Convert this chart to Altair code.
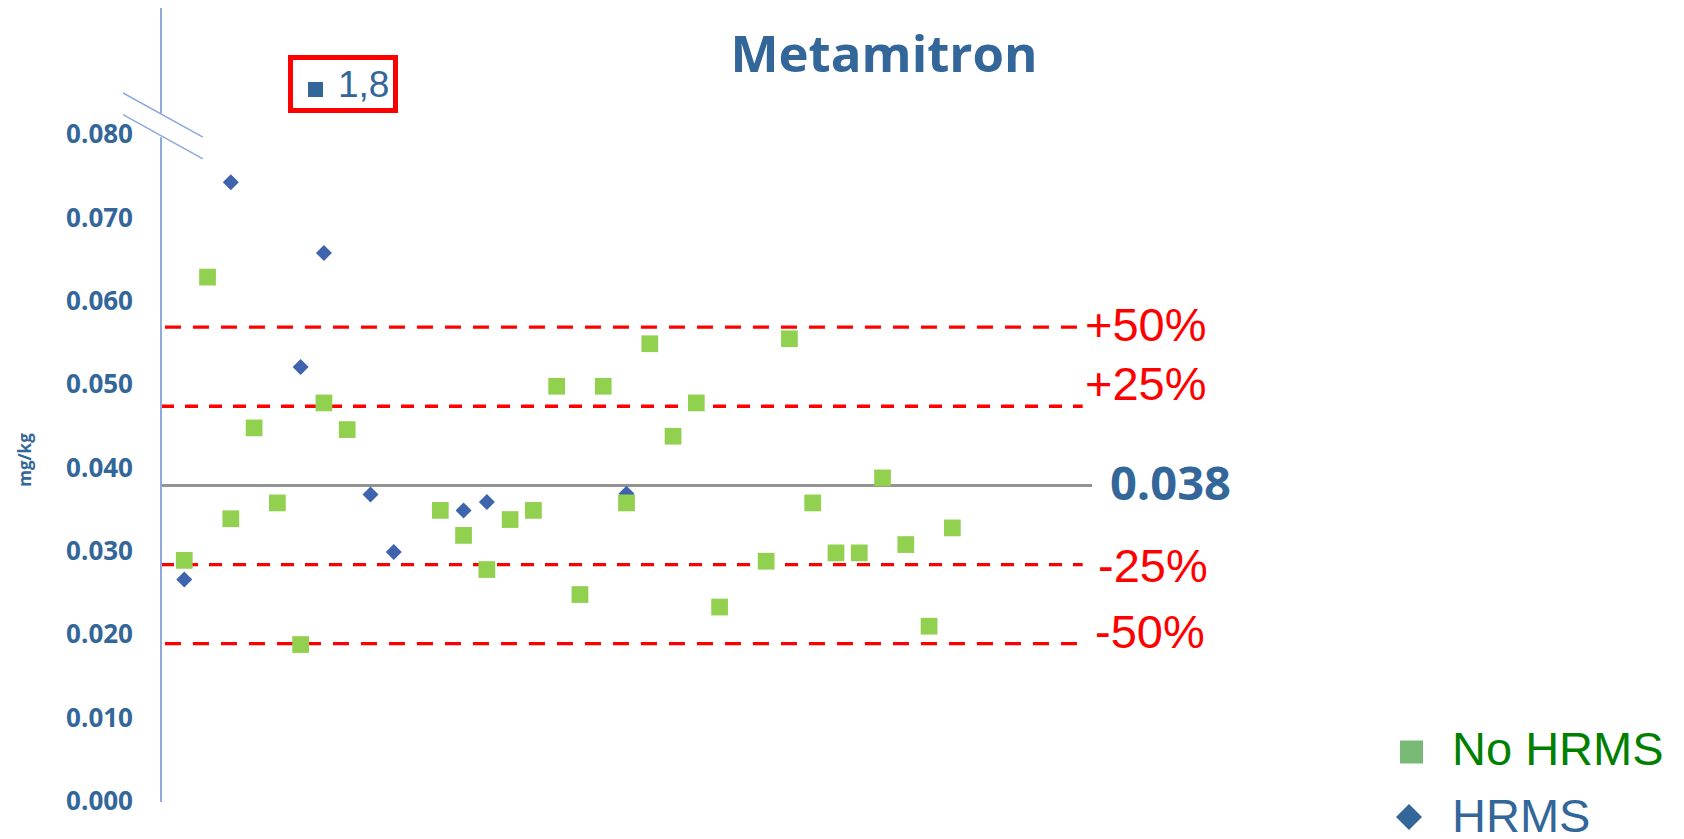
import altair as alt
import pandas as pd

# ---- data ----
labs_no_hrms = [1, 2, 3, 4, 5, 6, 7, 8, 12, 13, 14, 15, 16, 17, 18, 19, 20, 21, 22, 23, 24,
                26, 27, 28, 29, 30, 31, 32, 33, 34]
vals_no_hrms = [0.0290, 0.0630, 0.0340, 0.0449, 0.0359, 0.0189, 0.0479, 0.0447,
                0.0350, 0.0320, 0.0279, 0.0339, 0.0350, 0.0499, 0.0249, 0.0499, 0.0359,
                0.0550, 0.0439, 0.0479, 0.0234,
                0.0289, 0.0556, 0.0359, 0.0299, 0.0299, 0.0389, 0.0309, 0.0211, 0.0329]
labs_hrms = [1, 3, 6, 7, 9, 10, 13, 14, 20]
vals_hrms = [0.0267, 0.0744, 0.0522, 0.0659, 0.0369, 0.0300, 0.0350, 0.0360, 0.0370]

assigned_value = 0.038
limit_labels = ["+50%", "+25%", "-25%", "-50%"]
limit_values = [0.057, 0.0475, 0.0285, 0.019]
y_ticks = [0.0, 0.01, 0.02, 0.03, 0.04, 0.05, 0.06, 0.07, 0.08]
series_names = ["No HRMS", "HRMS"]
outlier_text = "1,8"
title_text = "Metamitron"
y_title = "mg/kg"

# ---- styling ----
BLUE = "#336699"
GREEN_PT = "#92D050"
BLUE_PT = "#3E64AE"
AXIS_C = "#8EAADB"
RED = "#FF0000"

X_DOM = [0, 40]
Y_DOM = [0, 0.0953]
W, H = 931, 794

xs = alt.Scale(domain=X_DOM, nice=False, zero=False)
ys = alt.Scale(domain=Y_DOM, nice=False, zero=False)


def X(f):
    return alt.X(f, scale=xs, axis=None)


def Y(f):
    return alt.Y(f, scale=ys, axis=None)


df_no = pd.DataFrame({"lab": labs_no_hrms, "v": vals_no_hrms})
df_h = pd.DataFrame({"lab": labs_hrms, "v": vals_hrms})
df_ticks = pd.DataFrame({"v": y_ticks, "t": [f"{t:.3f}" for t in y_ticks]})
one = pd.DataFrame({"d": [0]})

# y tick labels (drawn through the y scale)
tick_labels = alt.Chart(df_ticks).mark_text(
    font="Open Sans", fontWeight="bold", fontSize=26, color=BLUE, align="right",
    baseline="middle").encode(y=Y("v:Q"), x=alt.value(-28), text="t:N")

diamonds = alt.Chart(df_h).mark_point(shape="diamond", filled=True, size=256,
                                      color=BLUE_PT, opacity=1).encode(
    x=X("lab:Q"), y=Y("v:Q"))
squares = alt.Chart(df_no).mark_point(shape="square", filled=True, size=280,
                                      color=GREEN_PT, opacity=1).encode(
    x=X("lab:Q"), y=Y("v:Q"))

# assigned value line
center_df = pd.DataFrame({"v": [assigned_value], "x0": [X_DOM[0]], "x1": [X_DOM[1]]})
center_line = alt.Chart(center_df).mark_rule(color="#939393", strokeWidth=3).encode(
    y=Y("v:Q"), x=X("x0:Q"), x2="x1:Q")
center_txt = alt.Chart(center_df).mark_text(
    text=f"{assigned_value:.3f}", font="Open Sans", fontWeight="bold", fontSize=47,
    color=BLUE, align="left", baseline="middle", dy=1).encode(
    y=Y("v:Q"), x=alt.value(949))

# limit lines
lim_layers = []
dashes = [[16, 12], [13, 11], [13, 11], [16, 12]]
starts = [0.17, 0.0, 0.0, 0.17]
label_dx = [924, 924, 937, 934]
label_dy = [0, -20, 3, -10]
for i, (lab, val) in enumerate(zip(limit_labels, limit_values)):
    d = pd.DataFrame({"v": [val], "x0": [starts[i]], "x1": [39.6], "t": [lab]})
    lim_layers.append(alt.Chart(d).mark_rule(color=RED, strokeWidth=3.3,
                                             strokeDash=dashes[i]).encode(
        y=Y("v:Q"), x=X("x0:Q"), x2="x1:Q"))
    lim_layers.append(alt.Chart(d).mark_text(font="Liberation Sans", fontSize=47, color=RED,
                                             align="left", baseline="middle",
                                             dy=label_dy[i]).encode(
        y=Y("v:Q"), x=alt.value(label_dx[i]), text="t:N"))

# axis line with break
axis_df = pd.DataFrame({"y0": [Y_DOM[1], 0.0798], "y1": [0.0827, Y_DOM[0]], "x0": [0, 0]})
axis_line = alt.Chart(axis_df).mark_rule(color=AXIS_C, strokeWidth=2).encode(
    x=X("x0:Q"), y=Y("y0:Q"), y2="y1:Q")
brk_df = pd.DataFrame({"k": ["a", "a", "b", "b"], "x": [-1.63, 1.80, -1.63, 1.80],
                       "y": [0.0851, 0.0798, 0.0825, 0.0772]})
brk = alt.Chart(brk_df).mark_line(color=AXIS_C, strokeWidth=1.5, clip=False).encode(
    x=X("x:Q"), y=Y("y:Q"), detail="k:N")

# title and y title
title = alt.Chart(one).mark_text(text=title_text, font="Open Sans", fontWeight="bold",
                                 fontSize=51, color=BLUE, align="center",
                                 baseline="alphabetic").encode(
    x=alt.value(723), y=alt.value(64))
ytitle = alt.Chart(one).mark_text(text=y_title, font="Open Sans", fontWeight="bold",
                                  fontSize=17, color=BLUE, align="center", baseline="middle",
                                  angle=270).encode(x=alt.value(-135), y=alt.value(452))

# outlier box
box_top = alt.Chart(one).mark_rule(color=RED, strokeWidth=5).encode(
    x=alt.value(127), x2=alt.value(237), y=alt.value(49.5))
box_bot = alt.Chart(one).mark_rule(color=RED, strokeWidth=5).encode(
    x=alt.value(127), x2=alt.value(237), y=alt.value(102.5))
box_l = alt.Chart(one).mark_rule(color=RED, strokeWidth=5).encode(
    x=alt.value(129.5), y=alt.value(47), y2=alt.value(105))
box_r = alt.Chart(one).mark_rule(color=RED, strokeWidth=5).encode(
    x=alt.value(234.5), y=alt.value(47), y2=alt.value(105))
box_sym = alt.Chart(one).mark_point(shape="square", filled=True, size=225, color=BLUE,
                                    opacity=1).encode(x=alt.value(154.5), y=alt.value(81.5))
box_txt = alt.Chart(one).mark_text(text=outlier_text, font="Liberation Sans", fontSize=37,
                                   color=BLUE, align="left", baseline="alphabetic").encode(
    x=alt.value(177), y=alt.value(89))

# legend
leg_sq = alt.Chart(one).mark_point(shape="square", filled=True, size=529, color="#77BB77",
                                   opacity=1).encode(x=alt.value(1250.5), y=alt.value(744))
leg_sq_t = alt.Chart(one).mark_text(text=series_names[0], font="Liberation Sans", fontSize=47,
                                    color="#008000", align="left", baseline="middle").encode(
    x=alt.value(1291), y=alt.value(743))
leg_di = alt.Chart(one).mark_point(shape="diamond", filled=True, size=676, color=BLUE,
                                   opacity=1).encode(x=alt.value(1248), y=alt.value(809))
leg_di_t = alt.Chart(one).mark_text(text=series_names[1], font="Liberation Sans", fontSize=47,
                                    color=BLUE, align="left", baseline="middle").encode(
    x=alt.value(1291), y=alt.value(810))

chart = alt.layer(
    center_line, *lim_layers, axis_line, brk, tick_labels, diamonds, squares, center_txt,
    title, ytitle, box_top, box_bot, box_l, box_r, box_sym, box_txt,
    leg_sq, leg_sq_t, leg_di, leg_di_t
).properties(
    width=W, height=H,
    background="white",
    autosize=alt.AutoSizeParams(type="none"),
    padding={"left": 153, "top": 0, "right": 578, "bottom": 40},
).configure_view(stroke=None)

chart.save("out.html", embed_options={"renderer": "svg", "actions": False})
